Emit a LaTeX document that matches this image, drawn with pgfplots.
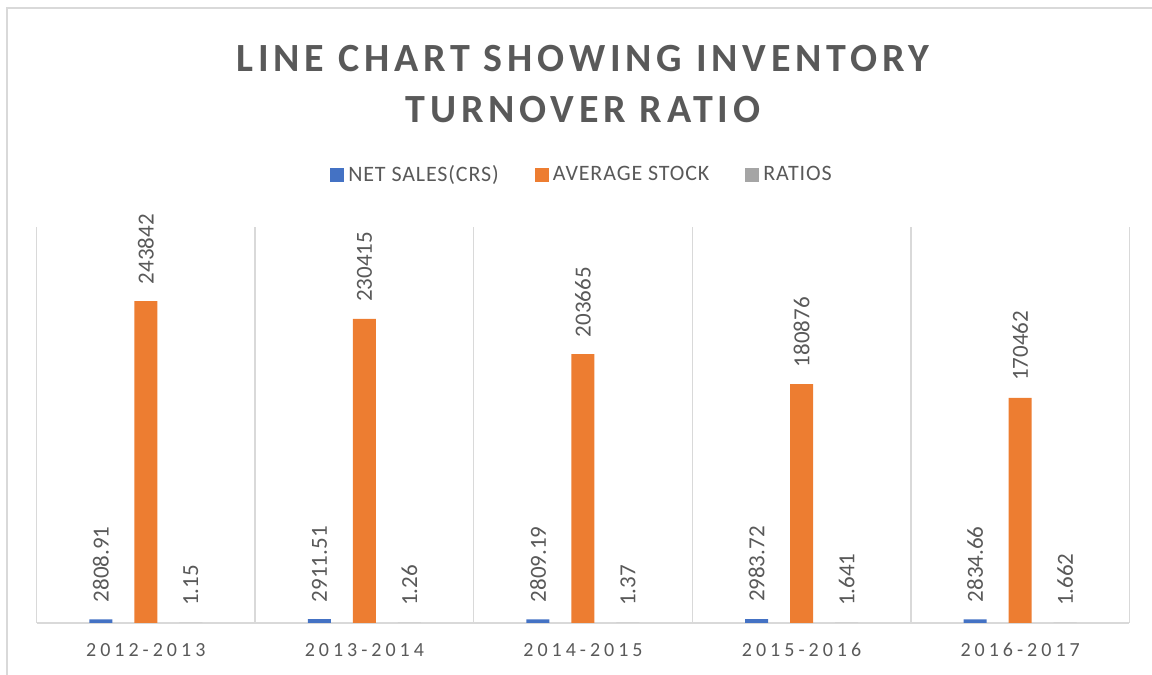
\documentclass[border=0pt]{standalone}
\usepackage{fontspec}
\setmainfont{Carlito}
\usepackage{pgfplots}
\pgfplotsset{compat=1.18}
\usepackage{pgfplotstable}

\definecolor{netblue}{HTML}{4472C4}
\definecolor{stockorange}{HTML}{ED7D31}
\definecolor{ratiogrey}{HTML}{A5A5A5}
\definecolor{txtgrey}{HTML}{595959}
\definecolor{gridgrey}{HTML}{D9D9D9}

% year index, value, label
\pgfplotstableread{
x y label
0 2808.91 2808.91
1 2911.51 2911.51
2 2809.19 2809.19
3 2983.72 2983.72
4 2834.66 2834.66
}\netsales
\pgfplotstableread{
x y label
0 243842 243842
1 230415 230415
2 203665 203665
3 180876 180876
4 170462 170462
}\avgstock
\pgfplotstableread{
x y label
0 1.15 1.15
1 1.26 1.26
2 1.37 1.37
3 1.641 1.641
4 1.662 1.662
}\ratios

\begin{document}
\begin{tikzpicture}
\draw[gridgrey, line width=0.75pt] (3.5pt,-5pt) -- (3.5pt,333.5pt) -- (580pt,333.5pt);
\begin{axis}[
    at={(18.25pt,26pt)}, anchor=south west,
    scale only axis,
    width=546.5pt, height=198pt,
    xmin=-0.5, xmax=4.5,
    ymin=0, ymax=300000,
    ybar,
    bar width=11.5pt,
    axis y line=none,
    axis x line*=bottom,
    x axis line style={gridgrey, line width=0.75pt, -},
    xtick={0,1,2,3,4},
    xticklabels={2012-2013,2013-2014,2014-2015,2015-2016,2016-2017},
    major tick length=0pt,
    minor xtick={-0.5,0.5,1.5,2.5,3.5,4.5},
    minor tick length=0pt,
    xminorgrids,
    minor grid style={gridgrey, line width=0.75pt},
    xticklabel style={font=\fontsize{10}{12}\selectfont\addfontfeatures{LetterSpace=20}, text=txtgrey, yshift=-6.5pt},
    title={LINE CHART SHOWING INVENTORY\\TURNOVER RATIO},
    title style={at={(0.5,1.33)}, anchor=center, align=center, text=txtgrey,
        font=\fontsize{20}{25.5}\selectfont\bfseries\addfontfeatures{LetterSpace=12}},
    legend columns=3,
    legend style={at={(0.5,1.1313)}, anchor=center, draw=none, fill=none,
        font=\fontsize{11}{13}\selectfont\addfontfeatures{LetterSpace=4}, text=txtgrey,
        /tikz/every even column/.append style={column sep=16pt}},
    legend image code/.code={\fill[#1] (0pt,-3.5pt) rectangle (7pt,3.5pt);},
    nodes near coords={\hspace*{5pt}\pgfplotspointmeta},
    point meta=explicit symbolic,
    every node near coord/.append style={font=\fontsize{11.5}{13}\selectfont, text=txtgrey,
        rotate=90, anchor=west},
]
\addplot[fill=netblue, draw=none, bar shift=-22.5pt] table[x=x, y=y, meta=label] {\netsales};
\addplot[fill=stockorange, draw=none, bar shift=0pt] table[x=x, y=y, meta=label] {\avgstock};
\addplot[fill=ratiogrey, draw=none, bar shift=22.5pt] table[x=x, y=y, meta=label] {\ratios};
\legend{NET SALES(CRS), AVERAGE STOCK, RATIOS}
\end{axis}
\pgfresetboundingbox
\useasboundingbox (0,0) rectangle (576pt,337.5pt);
\end{tikzpicture}
\end{document}
